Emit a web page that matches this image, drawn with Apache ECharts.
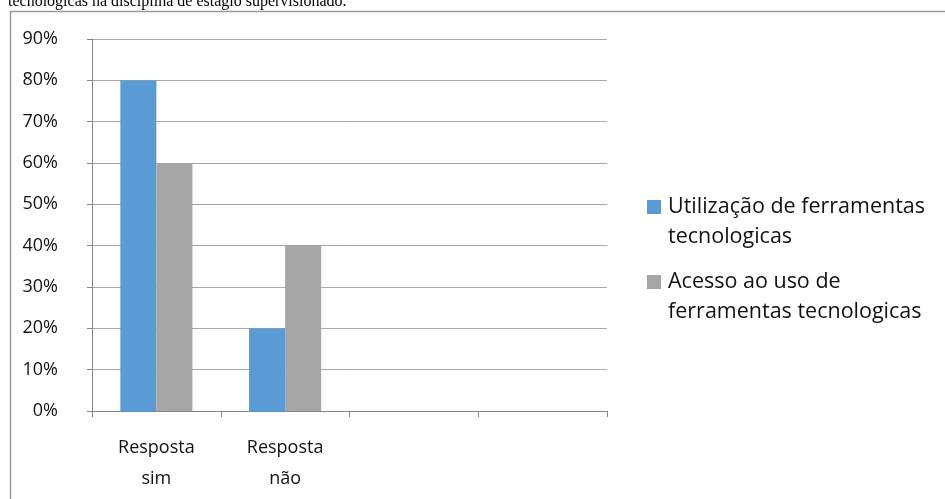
<!DOCTYPE html>
<html>
<head>
<meta charset="utf-8">
<script src="https://cdn.jsdelivr.net/npm/echarts@6/dist/echarts.min.js"></script>
<style>
html,body{margin:0;padding:0;background:#fff;}
#chart{width:945px;height:499px;}
</style>
</head>
<body>
<div id="chart"></div>
<script>
const categories = ["Resposta sim", "Resposta não", "", ""];
const utilizacao = [80, 20, null, null];
const acesso = [60, 40, null, null];
const seriesNames = ["Utilização de ferramentas tecnologicas", "Acesso ao uso de ferramentas tecnologicas"];
const legendLines = {
  "Utilização de ferramentas tecnologicas": ["Utilização de ferramentas", "tecnologicas"],
  "Acesso ao uso de ferramentas tecnologicas": ["Acesso ao uso de", "ferramentas tecnologicas"]
};
const yTicks = [0, 10, 20, 30, 40, 50, 60, 70, 80, 90];
const captionText = "tecnológicas na disciplina de estágio supervisionado.";

const chart = echarts.init(document.getElementById('chart'), null, {renderer: 'canvas'});
const font = "'Open Sans', sans-serif";
chart.setOption({
  animation: false,
  backgroundColor: '#ffffff',
  graphic: [
    {type: 'rect', silent: true, shape: {x: 10.5, y: 11.5, width: 1000, height: 1000},
     style: {fill: 'none', stroke: '#9a9a9a', lineWidth: 1.5}},
    {type: 'text', silent: true, x: 8, y: 9.5,
     style: {text: captionText, font: "16px 'Liberation Serif', serif", fill: '#000', verticalAlign: 'bottom'}}
  ],
  grid: {left: 92, right: 338, top: 39, bottom: 88, containLabel: false},
  legend: {
    orient: 'vertical', left: 647, top: 162, padding: 0,
    icon: 'rect', itemWidth: 14, itemHeight: 14, itemGap: -15,
    data: seriesNames,
    selectedMode: false,
    formatter: function (n) { return '\n' + legendLines[n].join('\n'); },
    textStyle: {fontFamily: font, fontSize: 21.5, lineHeight: 30, color: '#111', padding: [0, 0, 0, 2]}
  },
  xAxis: {
    type: 'category', data: categories,
    axisLine: {lineStyle: {color: '#868686', width: 1}},
    axisTick: {show: true, length: 6, lineStyle: {color: '#868686'}},
    axisLabel: {
      fontFamily: font, fontSize: 18, lineHeight: 31, color: '#111', margin: 21, interval: 0,
      formatter: function (v) { return v.replace(' ', '\n'); }
    }
  },
  yAxis: {
    type: 'value', min: 0, max: 90, interval: 10,
    axisLine: {show: true, lineStyle: {color: '#868686', width: 1}},
    axisTick: {show: true, length: 5, lineStyle: {color: '#868686'}},
    splitLine: {lineStyle: {color: '#a6a6a6', width: 1}},
    axisLabel: {fontFamily: font, fontSize: 18, color: '#111', margin: 34, formatter: '{value}%'}
  },
  series: [
    {name: seriesNames[0], type: 'bar', data: utilizacao, barGap: '0%', barCategoryGap: '44%',
     itemStyle: {color: '#5b9bd5'}},
    {name: seriesNames[1], type: 'bar', data: acesso, barGap: '0%', barCategoryGap: '44%',
     itemStyle: {color: '#a5a5a5'}}
  ]
});
</script>
</body>
</html>
